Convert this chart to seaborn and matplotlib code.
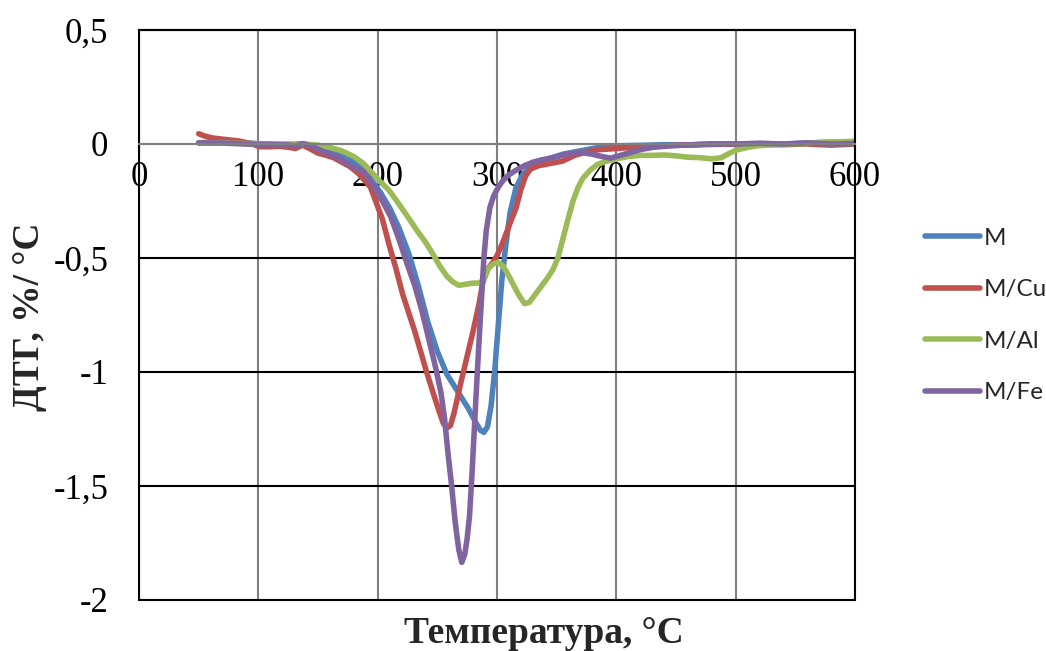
import numpy as np
import pandas as pd
import matplotlib
matplotlib.use("Agg")
import matplotlib.pyplot as plt
import seaborn as sns

# ---- data ----
series_names = ["M", "M/Cu", "M/Al", "M/Fe"]
series_colors = ["#4F81BD", "#C0504D", "#9BBB59", "#8064A2"]

t_m = [50, 65, 80, 95, 110, 125, 137, 150, 162, 175, 187, 195, 202, 210, 218, 226, 234, 242, 250, 258,
       264, 270, 276, 282, 286, 289, 292, 295, 298, 301, 304, 307, 311, 316, 322, 330, 340, 355, 370, 385,
       400, 420, 440, 460, 480, 500, 520, 540, 560, 580, 600]
v_m = [0.005, 0.01, 0.012, 0.003, -0.002, -0.004, 0.0, -0.012, -0.03, -0.06, -0.11, -0.16, -0.21, -0.28, -0.37,
       -0.48, -0.62, -0.78, -0.91, -1.01, -1.06, -1.11, -1.16, -1.22, -1.255, -1.265, -1.24, -1.15, -1.0, -0.8,
       -0.6, -0.46, -0.3, -0.19, -0.13, -0.09, -0.07, -0.045, -0.03, -0.015, -0.008, -0.006, -0.003, -0.004,
       -0.002, 0.0, 0.002, 0.0, 0.004, 0.0, 0.003]

t_cu = [50, 55, 62, 72, 84, 95, 101, 110, 118, 126, 131, 137, 143, 150, 157, 163, 170, 177, 184, 190,
        194, 199, 204, 210, 215, 221, 226, 231, 236, 241, 247, 252, 255, 258, 261, 264, 267, 270, 275, 280,
        285, 288, 292, 297, 300, 305, 310, 316, 320, 324, 328, 335, 345, 355, 365, 375, 385, 400, 420, 440,
        460, 480, 500, 520, 540, 560, 580, 600]
v_cu = [0.045, 0.035, 0.026, 0.02, 0.013, 0.0, -0.012, -0.012, -0.01, -0.015, -0.02, -0.005, -0.02, -0.04,
        -0.05, -0.06, -0.08, -0.1, -0.13, -0.165, -0.19, -0.26, -0.33, -0.45, -0.54, -0.66, -0.74, -0.82, -0.91,
        -1.0, -1.1, -1.18, -1.225, -1.245, -1.235, -1.18, -1.11, -1.04, -0.93, -0.82, -0.7, -0.61, -0.55, -0.515,
        -0.49, -0.43, -0.36, -0.28, -0.2, -0.14, -0.11, -0.095, -0.085, -0.075, -0.05, -0.035, -0.025, -0.02,
        -0.012, -0.008, -0.004, 0.0, -0.002, 0.0, -0.003, 0.0, -0.005, 0.0]

t_al = [50, 70, 90, 110, 125, 137, 150, 160, 170, 180, 188, 195, 202, 209, 216, 224, 233, 240, 246, 252,
        258, 263, 268, 274, 280, 285, 289, 293, 297, 301, 305, 309, 313, 318, 323, 327, 332, 337, 342, 347,
        351, 355, 360, 364, 368, 372, 378, 384, 392, 400, 410, 420, 430, 440, 450, 460, 470, 480, 488, 495,
        501, 510, 518, 530, 545, 560, 570, 580, 590, 600]
v_al = [0.005, 0.005, 0.002, 0.0, 0.0, 0.0, -0.005, -0.015, -0.03, -0.055, -0.085, -0.125, -0.165, -0.2,
        -0.25, -0.31, -0.38, -0.43, -0.48, -0.535, -0.58, -0.605, -0.62, -0.615, -0.61, -0.61, -0.595, -0.545,
        -0.525, -0.52, -0.535, -0.57, -0.61, -0.66, -0.70, -0.695, -0.66, -0.625, -0.59, -0.55, -0.5, -0.42,
        -0.32, -0.245, -0.19, -0.15, -0.115, -0.09, -0.075, -0.065, -0.055, -0.05, -0.05, -0.048, -0.052,
        -0.058, -0.06, -0.065, -0.06, -0.04, -0.026, -0.015, -0.008, -0.004, 0.0, 0.002, 0.008, 0.01, 0.01, 0.012]

t_fe = [50, 70, 90, 110, 125, 131, 137, 145, 157, 165, 173, 181, 188, 196, 204, 211, 218, 225, 231, 237,
        243, 249, 253, 256, 259, 262, 265, 268, 270.5, 273, 275, 277, 279, 281, 283, 285, 287, 289, 291, 294,
        297, 301, 305, 310, 316, 323, 330, 337, 344, 351, 358, 365, 372, 380, 388, 395, 402, 410, 420, 430,
        445, 460, 480, 500, 520, 540, 560, 580, 600]
v_fe = [0.005, 0.004, 0.0, -0.002, -0.004, -0.008, 0.002, -0.01, -0.04, -0.055, -0.08, -0.105, -0.12, -0.18,
        -0.25, -0.32, -0.42, -0.53, -0.62, -0.73, -0.86, -0.99, -1.09, -1.2, -1.36, -1.5, -1.66, -1.78, -1.835,
        -1.8, -1.73, -1.63, -1.45, -1.25, -1.05, -0.86, -0.68, -0.5, -0.38, -0.28, -0.23, -0.19, -0.16, -0.135,
        -0.115, -0.095, -0.08, -0.07, -0.063, -0.055, -0.045, -0.04, -0.038, -0.045, -0.055, -0.062, -0.052,
        -0.04, -0.025, -0.015, -0.008, -0.004, 0.0, 0.0, 0.003, 0.0, 0.005, 0.0, 0.002]

x_ticks = [0, 100, 200, 300, 400, 500, 600]
x_tick_labels = ["0", "100", "200", "300", "400", "500", "600"]
y_ticks = [-2, -1.5, -1, -0.5, 0, 0.5]
y_tick_labels = ["-2", "-1,5", "-1", "-0,5", "0", "0,5"]
x_title = "Температура, °C"
y_title = "ДТГ, %/ °C"

# ---- build long table ----
frames = []
for name, t, v in zip(series_names, [t_m, t_cu, t_al, t_fe], [v_m, v_cu, v_al, v_fe]):
    assert len(t) == len(v), name
    frames.append(pd.DataFrame({"T": t, "v": v, "series": name}))
df = pd.concat(frames, ignore_index=True)

sns.set_theme(style="white")
plt.rcParams["font.family"] = ["Liberation Serif", "DejaVu Serif"]

fig = plt.figure(figsize=(10.46, 6.51), dpi=100)
ax = fig.add_axes([139 / 1046, 51 / 651, 716 / 1046, 570 / 651])

LW = 4.0
sns.lineplot(data=df, x="T", y="v", hue="series", hue_order=series_names,
             palette=dict(zip(series_names, series_colors)), linewidth=LW,
             estimator=None, sort=False, ax=ax,
             solid_capstyle="round", solid_joinstyle="round")
for ln in ax.get_lines():
    ln.set_linewidth(LW)

ax.set_xlim(0, 600)
ax.set_ylim(-2, 0.5)
ax.set_xticks(x_ticks)
ax.set_xticklabels(x_tick_labels)
ax.set_yticks(y_ticks)
ax.set_yticklabels(y_tick_labels)

gray = "#808080"
ax.grid(True, axis="y", color="black", linewidth=1.5)
ax.grid(True, axis="x", color=gray, linewidth=1.5)
for val, gl in zip(y_ticks, ax.yaxis.get_gridlines()):
    gl.set_clip_on(False)
    if val == 0:
        gl.set_color(gray)
ax.set_axisbelow(True)

for s in ["left", "top", "right"]:
    ax.spines[s].set_color("black")
    ax.spines[s].set_linewidth(1.5)
ax.spines["bottom"].set_position(("data", 0))
ax.spines["bottom"].set_color(gray)
ax.spines["bottom"].set_linewidth(1.5)

ax.tick_params(axis="x", direction="out", length=6, width=1.5, color=gray,
               labelsize=25, labelcolor="black", pad=6, bottom=True)
ax.tick_params(axis="y", length=0, labelsize=25, labelcolor="black", pad=22, left=True)

ax.set_xlabel(x_title, fontsize=27, fontweight="bold", va="center")
ax.xaxis.set_label_coords(0.566, -0.058)
ax.set_ylabel(y_title, fontsize=27, fontweight="bold", va="center")
ax.yaxis.set_label_coords(-0.153, 0.497)

handles, labels = ax.get_legend_handles_labels()
ax.get_legend().remove()
for h in handles:
    h.set_linewidth(LW)
    h.set_solid_capstyle("round")
fig.legend(handles, labels, loc="center left", bbox_to_anchor=(925 / 1046, 1 - 315.5 / 651),
           frameon=False, prop={"family": "Lato", "size": 17.5}, handlelength=2.25,
           handletextpad=0.15, labelspacing=1.25, borderpad=0, borderaxespad=0)

fig.savefig("out.png", dpi=100)
